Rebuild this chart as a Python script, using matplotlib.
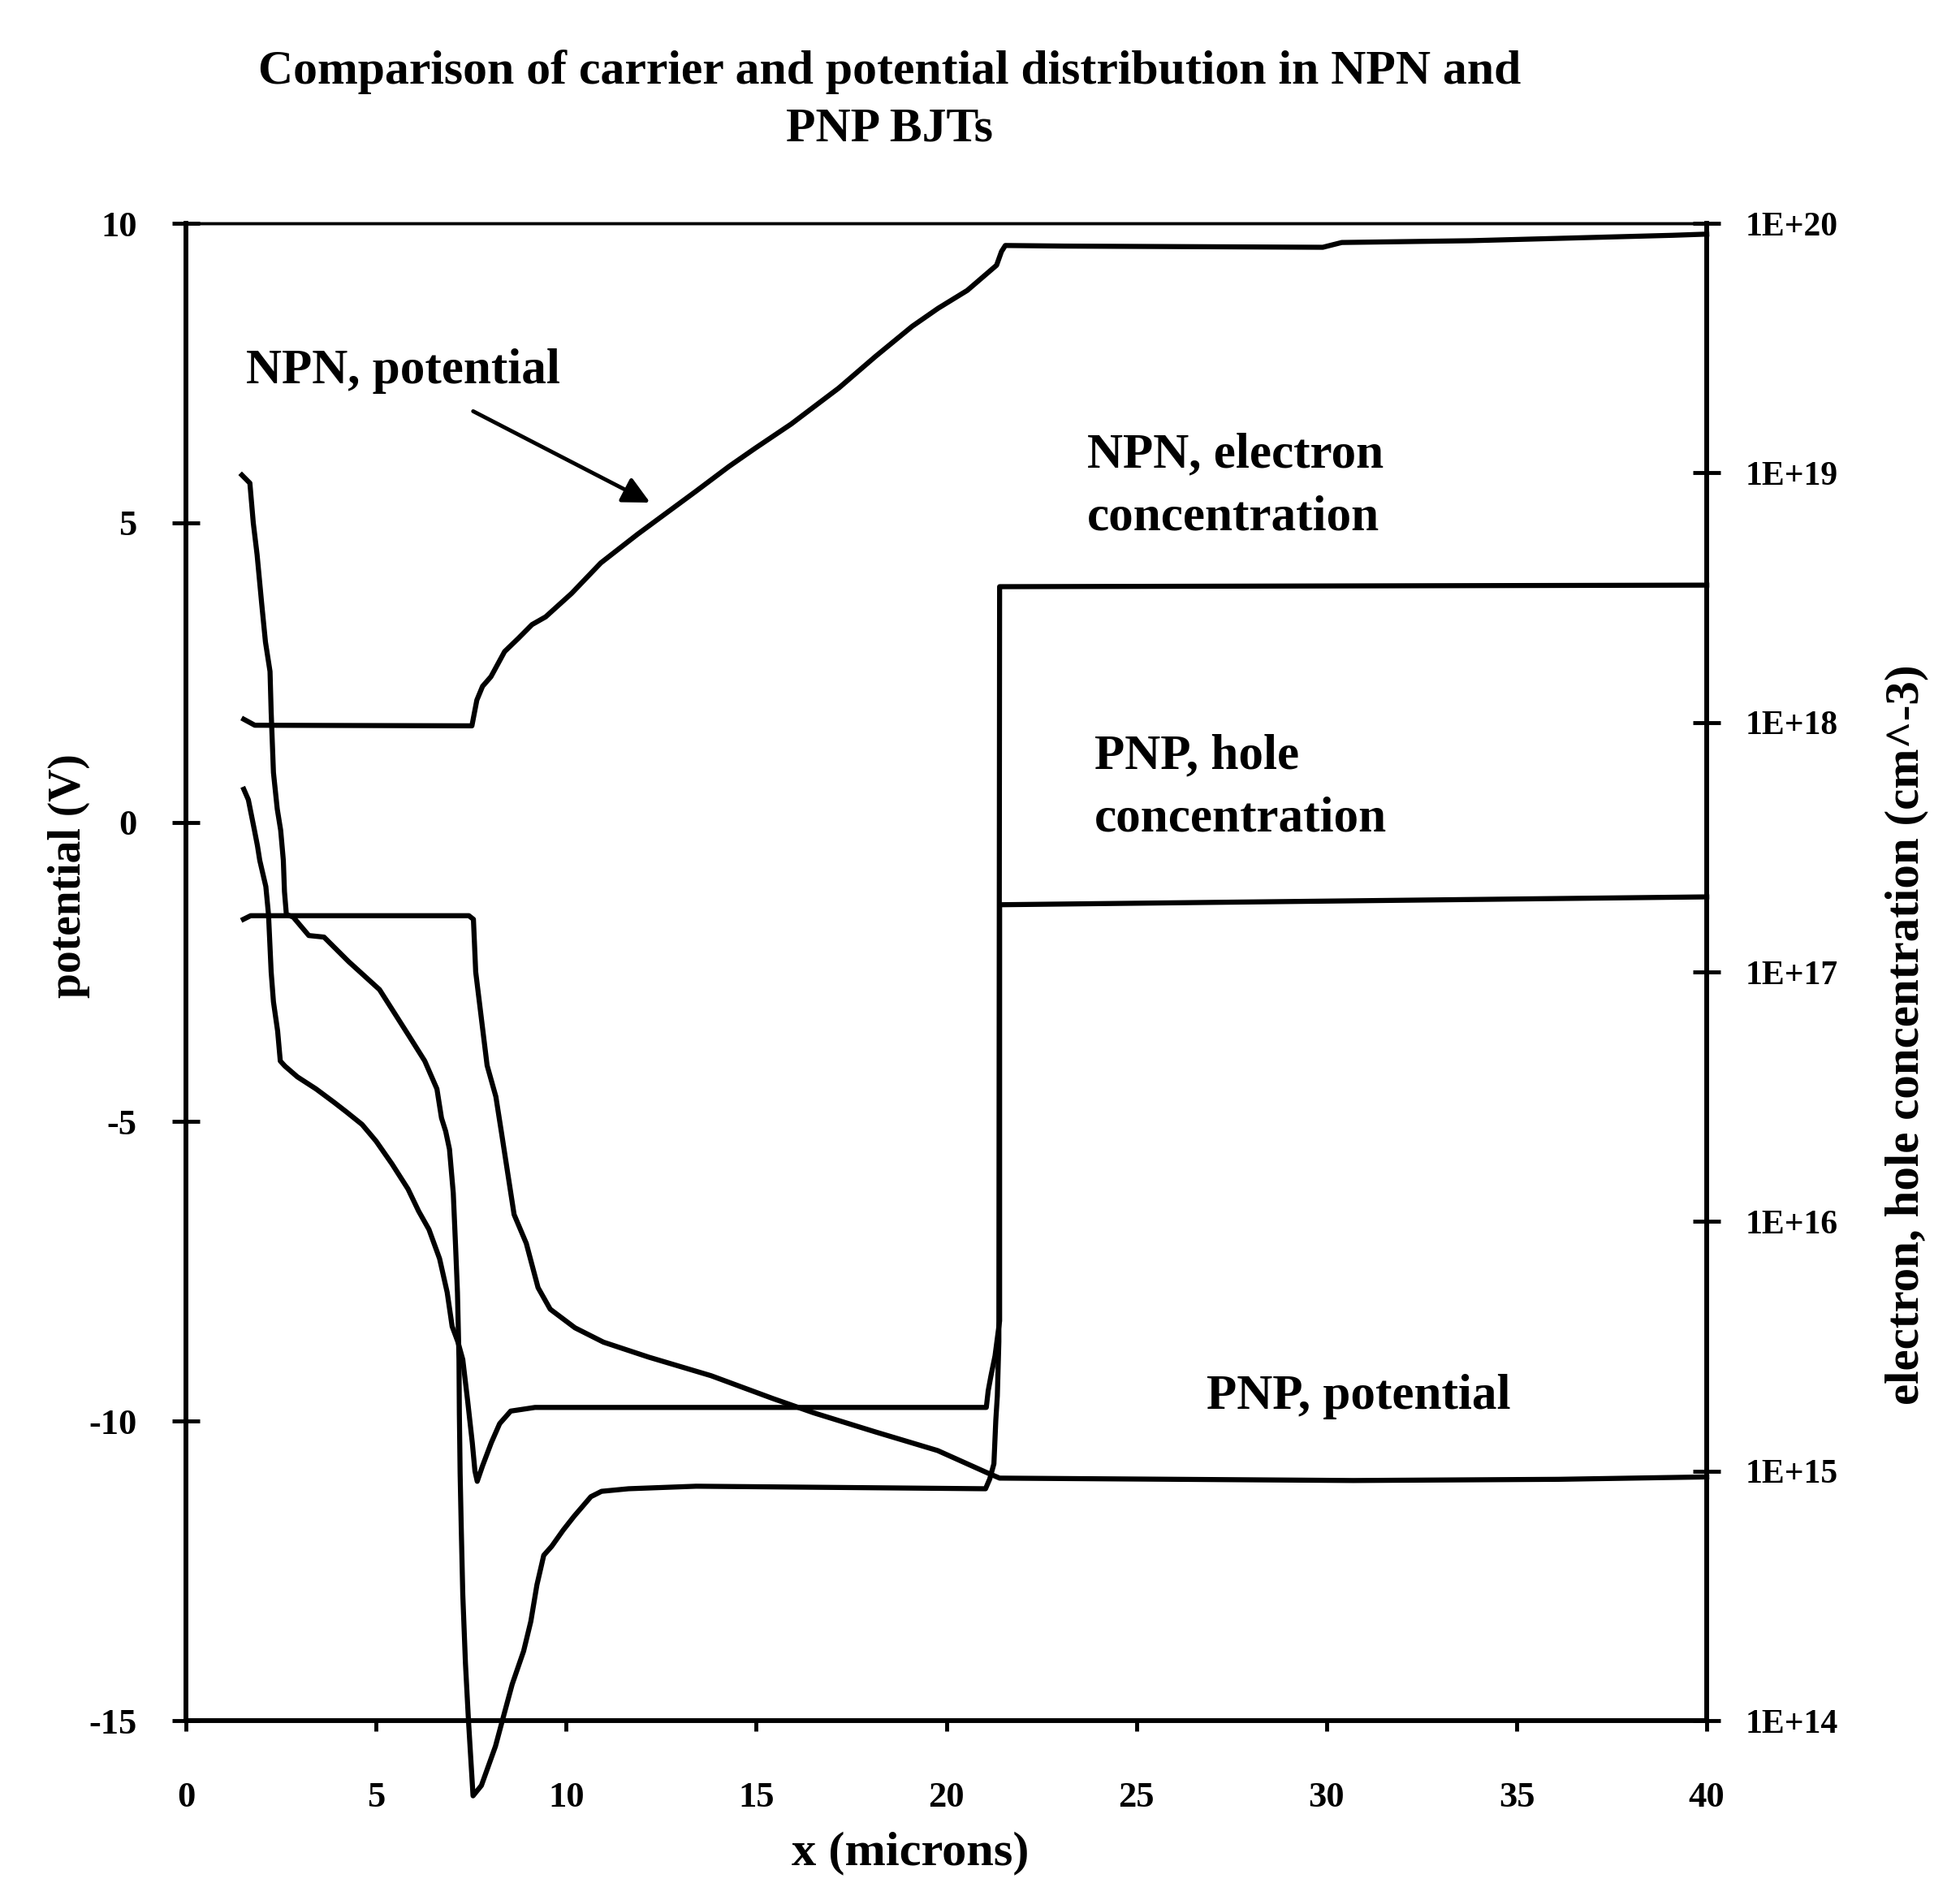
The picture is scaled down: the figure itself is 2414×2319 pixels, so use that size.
import matplotlib.pyplot as plt

plt.rcParams['font.family'] = ['Liberation Serif', 'DejaVu Serif']
plt.rcParams['font.weight'] = 'bold'
plt.rcParams['axes.unicode_minus'] = False

# NPN potential (V) vs x (microns)
npn_pot_x = [1.52, 1.81, 7.52, 7.65, 7.80, 8.02, 8.38, 8.74, 9.10, 9.46, 10.14, 10.91,
             11.88, 12.65, 13.42, 14.28, 14.96, 15.92, 16.69, 17.17, 18.14, 19.10,
             19.78, 20.55, 21.32, 21.45, 21.55, 23.1, 29.9, 30.4, 33.8, 39.1, 40.0]
npn_pot_v = [1.72, 1.62, 1.61, 2.04, 2.27, 2.43, 2.85, 3.07, 3.30, 3.43, 3.82, 4.33,
             4.81, 5.17, 5.53, 5.94, 6.24, 6.65, 7.02, 7.25, 7.78, 8.28,
             8.58, 8.88, 9.30, 9.53, 9.63, 9.62, 9.60, 9.68, 9.71, 9.80, 9.82]

# PNP potential (V)
pnp_pot_x = [1.51, 1.70, 7.44, 7.56, 7.62, 7.77, 7.92, 8.15, 8.30, 8.63, 8.95, 9.26,
             9.58, 10.23, 10.98, 12.17, 13.81, 15.43, 16.51, 18.14, 19.77, 21.07,
             21.40, 30.7, 36.1, 40.0]
pnp_pot_v = [-1.62, -1.56, -1.56, -1.62, -2.50, -3.28, -4.06, -4.58, -5.19, -6.55, -7.03, -7.77,
             -8.13, -8.44, -8.68, -8.93, -9.24, -9.62, -9.86, -10.18, -10.49, -10.86,
             -10.95, -10.99, -10.97, -10.93]

# NPN electron concentration (cm^-3)
npn_n_x = [1.47, 1.68, 1.77, 1.87, 1.99, 2.09, 2.21, 2.24, 2.30, 2.40, 2.49, 2.56, 2.59,
           2.64, 2.82, 3.23, 3.63, 4.28, 5.09, 5.88, 6.28, 6.60, 6.72, 6.83, 6.93, 7.03,
           7.09, 7.14, 7.17, 7.18, 7.19, 7.20, 7.21, 7.24, 7.28, 7.35, 7.43, 7.55, 7.77,
           8.14, 8.32, 8.58, 8.88, 9.07, 9.23, 9.41, 9.62, 9.92, 10.21, 10.65, 10.93, 11.64,
           13.42, 21.03, 21.14, 21.25, 21.30, 21.34, 21.38, 21.40, 40.0]
npn_n = [9.8e18, 9.1e18, 6.3e18, 4.7e18, 3.0e18, 2.1e18, 1.6e18, 1.1e18, 6.3e17, 4.5e17,
         3.7e17, 2.8e17, 2.1e17, 1.7e17, 1.66e17, 1.4e17, 1.38e17, 1.1e17, 8.5e16, 5.5e16,
         4.4e16, 3.4e16, 2.6e16, 2.3e16, 1.95e16, 1.3e16, 8.0e15, 5.2e15, 3.3e15, 2.8e15,
         1.7e15, 1.3e15, 9.8e14, 5.9e14, 3.2e14, 1.7e14, 1.0e14, 5.0e13, 5.5e13, 7.9e13,
         1.0e14, 1.4e14, 1.9e14, 2.5e14, 3.5e14, 4.6e14, 5.0e14, 5.8e14, 6.6e14, 7.9e14,
         8.3e14, 8.5e14, 8.7e14, 8.5e14, 9.3e14, 1.07e15, 1.6e15, 2.0e15, 3.3e15, 3.5e18,
         3.55e18]

# PNP hole concentration (cm^-3)
pnp_p_x = [1.52, 1.64, 1.80, 1.88, 1.94, 2.10, 2.17, 2.24, 2.30, 2.41, 2.48, 2.60, 2.93,
           3.42, 3.90, 4.22, 4.63, 5.00, 5.42, 5.84, 6.12, 6.39, 6.67, 6.87, 7.00, 7.15,
           7.28, 7.41, 7.53, 7.60, 7.66, 7.80, 8.03, 8.25, 8.54, 9.18, 21.05, 21.10,
           21.17, 21.28, 21.40, 21.40, 40.0]
pnp_p = [5.4e17, 4.9e17, 3.7e17, 3.2e17, 2.8e17, 2.2e17, 1.7e17, 1.0e17, 7.6e16, 5.8e16,
         4.4e16, 4.2e16, 3.8e16, 3.4e16, 3.0e16, 2.75e16, 2.45e16, 2.1e16, 1.7e16, 1.35e16,
         1.1e16, 9.3e15, 7.1e15, 5.2e15, 3.8e15, 3.3e15, 2.8e15, 1.9e15, 1.3e15, 1.0e15,
         9.1e14, 1.05e15, 1.3e15, 1.55e15, 1.74e15, 1.8e15, 1.8e15, 2.1e15, 2.4e15,
         2.9e15, 4.0e15, 1.86e17, 2.0e17]

x_ticks = [0, 5, 10, 15, 20, 25, 30, 35, 40]
pot_ticks = [10, 5, 0, -5, -10, -15]
conc_ticks = [1e14, 1e15, 1e16, 1e17, 1e18, 1e19, 1e20]
conc_labels = ["1E+14", "1E+15", "1E+16", "1E+17", "1E+18", "1E+19", "1E+20"]

fig = plt.figure(figsize=(24.14, 23.19), dpi=100)
ax = fig.add_axes([0.0949, 0.0862, 0.7759, 0.7952])
ax2 = ax.twinx()

lw = 4.5
ax.plot(npn_pot_x, npn_pot_v, color="black", lw=lw, clip_on=False)
ax.plot(pnp_pot_x, pnp_pot_v, color="black", lw=lw, clip_on=False)
ax2.plot(npn_n_x, npn_n, color="black", lw=lw, clip_on=False)
ax2.plot(pnp_p_x, pnp_p, color="black", lw=lw, clip_on=False)

ax.set_xlim(0, 40)
ax.set_ylim(-15, 10)
ax2.set_yscale("log")
ax2.set_ylim(1e14, 1e20)

ax.set_xticks(x_ticks)
ax.set_xticklabels([str(v) for v in x_ticks], fontsize=32, fontweight="bold")
ax.set_yticks(pot_ticks)
ax.set_yticklabels([str(v) for v in pot_ticks], fontsize=32, fontweight="bold")
ax2.set_yticks(conc_ticks)
ax2.set_yticklabels(conc_labels, fontsize=30, fontweight="bold")
ax2.minorticks_off()

ax.tick_params(axis="x", direction="out", length=9, width=3.5, pad=45)
ax.tick_params(axis="y", direction="inout", length=25, width=3.5, pad=31)
ax2.tick_params(axis="y", direction="inout", length=24, width=3.5, pad=22)

for a in (ax, ax2):
    for s in a.spines.values():
        s.set_linewidth(4)
    a.spines["top"].set_linewidth(2.5)

# in-plot labels
ax.text(1.58, 7.53, "NPN, potential", fontsize=44, fontweight="bold", ha="left", va="center")
ax.annotate("", xy=(12.26, 5.32), xytext=(7.50, 6.88),
            arrowprops=dict(arrowstyle="-|>", color="black", lw=3.5, mutation_scale=50))
ax.text(23.7, 5.61, "NPN, electron\nconcentration", fontsize=44, fontweight="bold",
        ha="left", va="center", linespacing=1.5)
ax.text(23.9, 0.58, "PNP, hole\nconcentration", fontsize=44, fontweight="bold",
        ha="left", va="center", linespacing=1.5)
ax.text(30.84, -9.59, "PNP, potential", fontsize=44, fontweight="bold", ha="center", va="center")

fig.text(0.454, 0.9465, "Comparison of carrier and potential distribution in NPN and\nPNP BJTs",
         fontsize=43, fontweight="bold", ha="center", va="center", linespacing=1.4)
fig.text(0.0352, 0.535, "potential (V)", fontsize=40, fontweight="bold",
         rotation=90, ha="center", va="center")
fig.text(0.9727, 0.4506, "electron, hole concentration (cm^-3)", fontsize=42.5, fontweight="bold",
         rotation=90, ha="center", va="center")
fig.text(0.4643, 0.016, "x (microns)", fontsize=43.5, fontweight="bold", ha="center", va="center")

fig.savefig("out.png", dpi=100)
